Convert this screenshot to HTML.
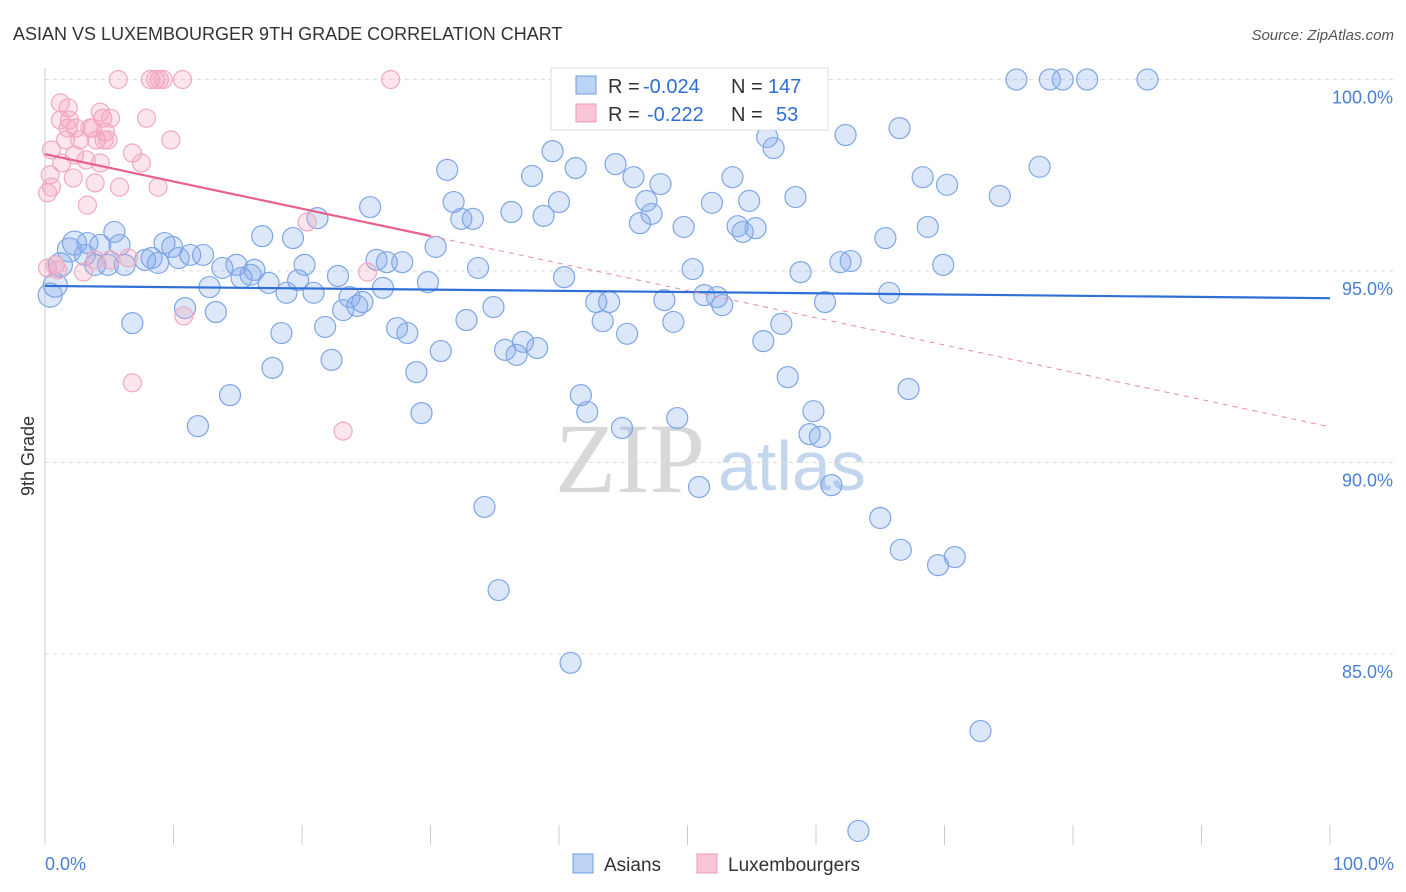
<!DOCTYPE html>
<html><head><meta charset="utf-8"><style>
body{margin:0;background:#fff;font-family:"Liberation Sans",sans-serif;}
svg{display:block}
</style></head><body>
<svg id="chart" width="1406" height="892">
<text x="13" y="40" font-size="18" fill="#333">ASIAN VS LUXEMBOURGER 9TH GRADE CORRELATION CHART</text>
<text x="1394" y="40" font-size="15" fill="#555" font-style="italic" text-anchor="end">Source: ZipAtlas.com</text>
<g>
<text x="555" y="492" font-size="100" font-family="Liberation Serif,serif" fill="#d8d8d8">ZIP</text>
<text x="718" y="490" font-size="70" fill="#c4d6ee">atlas</text>
</g>
<g id="grid"></g>
<g id="axes"></g>
<g id="pts"></g>
<g id="trends"></g>
<text x="34" y="456" font-size="18" fill="#333" transform="rotate(-90 34 456)" text-anchor="middle">9th Grade</text>
<text x="45" y="870" font-size="18" fill="#4a7fd4">0.0%</text>
<text x="1394" y="870" font-size="18" fill="#4a7fd4" text-anchor="end">100.0%</text>
<g>
<rect x="551" y="68" width="277" height="62" fill="#fff" stroke="#ddd"/>
<rect x="576" y="76" width="20" height="18" fill="#bcd3f5" stroke="#6f9be0"/>
<rect x="576" y="104" width="20" height="18" fill="#f9c6d5" stroke="#ee9ab4"/>
<text y="93" font-size="20" fill="#333"><tspan x="608">R =</tspan><tspan x="643" fill="#2f6fd6">-0.024</tspan><tspan x="731">N =</tspan><tspan x="768" fill="#2f6fd6">147</tspan></text>
<text y="121" font-size="20" fill="#333"><tspan x="608">R =</tspan><tspan x="647" fill="#2f6fd6">-0.222</tspan><tspan x="731">N =</tspan><tspan x="776" fill="#2f6fd6">53</tspan></text>
</g>
<g>
<rect x="573" y="854" width="20" height="19" fill="#bcd3f5" stroke="#6f9be0"/>
<text x="604" y="871" font-size="19" fill="#333">Asians</text>
<rect x="697" y="854" width="20" height="19" fill="#f9c6d5" stroke="#ee9ab4"/>
<text x="728" y="871" font-size="19" fill="#333">Luxembourgers</text>
</g>
</svg>
<script>
const yTicks=[100,95,90,85];
const yTickLabels=["100.0%","95.0%","90.0%","85.0%"];
const xTicks=[0,10,20,30,40,50,60,70,80,90,100];
const asianX=[0.4,0.8,1.2,1.9,2.3,3.1,3.3,3.9,4.3,4.9,5.4,5.8,6.2,6.8,7.8,8.3,8.8,9.3,9.9,10.4,10.9,11.3,11.9,12.3,12.8,13.3,13.8,14.4,14.9,15.3,16.0,16.3,16.9,17.4,17.7,18.4,18.8,19.3,19.7,20.2,20.9,21.2,21.8,22.3,22.8,23.2,23.7,24.3,24.7,25.3,25.8,26.3,26.6,27.4,27.8,28.2,28.9,29.3,29.8,30.4,30.8,31.3,31.8,32.4,32.8,33.3,33.7,34.2,34.9,35.3,35.8,36.3,36.7,37.2,37.9,38.3,38.8,39.5,40.0,40.4,40.9,41.3,41.7,42.2,42.9,43.4,43.9,44.4,44.9,45.3,45.8,46.3,46.8,47.2,47.9,48.2,48.9,49.2,49.7,50.4,50.9,51.3,51.9,52.3,52.7,53.5,53.9,54.3,54.8,55.3,55.9,56.2,56.7,57.3,57.8,58.4,58.8,59.5,59.8,60.3,60.7,61.2,61.9,62.3,62.7,63.3,65.0,65.4,65.7,66.5,66.6,67.2,68.3,68.7,69.5,69.9,70.2,70.8,72.8,74.3,75.6,77.4,78.2,79.2,81.1,85.8];
const asianY=[94.37,94.63,95.16,95.55,95.73,95.42,95.73,95.16,95.68,95.16,96.02,95.68,95.16,93.64,95.29,95.34,95.21,95.73,95.63,95.34,94.03,95.42,90.95,95.42,94.58,93.93,95.08,91.76,95.16,94.82,94.90,95.03,95.91,94.69,92.47,93.38,94.43,95.86,94.76,95.16,94.43,96.38,93.54,92.68,94.87,93.98,94.32,94.09,94.19,96.67,95.29,94.56,95.23,93.51,95.23,93.38,92.36,91.29,94.71,95.63,92.91,97.64,96.80,96.36,93.72,96.36,95.08,88.84,94.06,86.67,92.94,96.54,92.81,93.15,97.48,92.99,96.44,98.13,96.80,94.84,84.77,97.69,91.76,91.32,94.19,93.69,94.19,97.79,90.90,93.36,97.45,96.25,96.83,96.49,97.27,94.24,93.67,91.16,96.15,95.05,89.36,94.37,96.78,94.32,94.11,97.45,96.17,96.02,96.83,96.12,93.17,98.50,98.21,93.62,92.23,96.93,94.97,90.74,91.34,90.67,94.19,89.41,95.23,98.55,95.26,80.38,88.55,95.86,94.43,98.73,87.72,91.92,97.45,96.15,87.32,95.16,97.25,87.53,82.99,96.96,100,97.72,100,100,100,100];
const luxX=[0.2,0.4,0.5,0.8,1.0,1.2,1.3,1.6,1.8,1.9,2.2,2.4,2.7,3.0,3.2,3.3,3.7,3.9,4.0,4.3,4.5,4.7,4.9,5.1,5.7,5.8,6.5,6.8,6.8,7.5,7.9,8.2,8.6,8.8,8.9,9.2,9.8,10.7,10.8,20.4,23.2,25.1,26.9,0.2,0.5,1.8,2.3,3.5,4.3,4.6,5.1,3.9,1.2];
const luxY=[97.04,97.51,98.16,95.16,95.03,99.39,97.82,98.42,99.26,98.94,97.43,98.73,98.42,94.97,97.90,96.72,98.73,97.30,98.42,97.82,98.99,98.63,98.42,98.99,100,97.19,95.34,92.08,98.08,97.82,98.99,100,100,97.19,100,100,98.42,100,93.83,96.28,90.82,94.97,100,95.08,97.19,98.73,98.03,98.73,99.15,98.42,95.29,95.29,98.94];
const asianTrend=[94.61,94.29];
const luxTrend=[98.05,90.93];
const NS="http://www.w3.org/2000/svg";
const X0=45,X1=1330;
const xs=v=>X0+(X1-X0)*v/100;
const ys=v=>79.5+(100-v)*38.3;
function mk(tag,attrs,parent){const e=document.createElementNS(NS,tag);for(const k in attrs)e.setAttribute(k,attrs[k]);document.getElementById(parent).appendChild(e);return e;}
yTicks.forEach((t,i)=>{
 const l=mk('line',{x1:X0,x2:1394,y1:ys(t),y2:ys(t),stroke:'#ddd','stroke-dasharray':'4,4'},'grid');
 
 
 const tx=mk('text',{x:1393,y:ys(t)+24,'font-size':18,fill:'#4a7fd4','text-anchor':'end'},'grid');
 tx.textContent=yTickLabels[i];
 
 
});
const ax=mk('line',{x1:X0,x2:X0,y1:68,y2:845,stroke:'#ccc'},'axes');


xTicks.forEach(t=>{
 const l=mk('line',{x1:xs(t),x2:xs(t),y1:825,y2:845,stroke:'#ccc'},'axes');
 
 
});
asianX.forEach((x,i)=>{
 const r=x<2.5?12:10.5;
 const c=mk('circle',{cx:xs(x),cy:ys(asianY[i]),r:r,fill:'rgba(130,170,235,0.28)',stroke:'#7ea6e6','stroke-width':1.2},'pts');
 
 
});
luxX.forEach((x,i)=>{
 const c=mk('circle',{cx:xs(x),cy:ys(luxY[i]),r:9,fill:'rgba(245,160,185,0.28)',stroke:'#f2a9bf','stroke-width':1.2},'pts');
 
 
});
const bt=mk('line',{x1:xs(0),x2:xs(100),y1:ys(asianTrend[0]),y2:ys(asianTrend[1]),stroke:'#2f6fd6','stroke-width':2.2},'trends');


const lm=(v)=>luxTrend[0]+(luxTrend[1]-luxTrend[0])*v/100;
const pt=mk('line',{x1:xs(0),x2:xs(30),y1:ys(lm(0)),y2:ys(lm(30)),stroke:'#e8608c','stroke-width':2.2},'trends');


const pd=mk('line',{x1:xs(30),x2:xs(100),y1:ys(lm(30)),y2:ys(lm(100)),stroke:'#ec8aa8','stroke-width':1,'stroke-dasharray':'5,5'},'trends');


</script>
</body></html>
